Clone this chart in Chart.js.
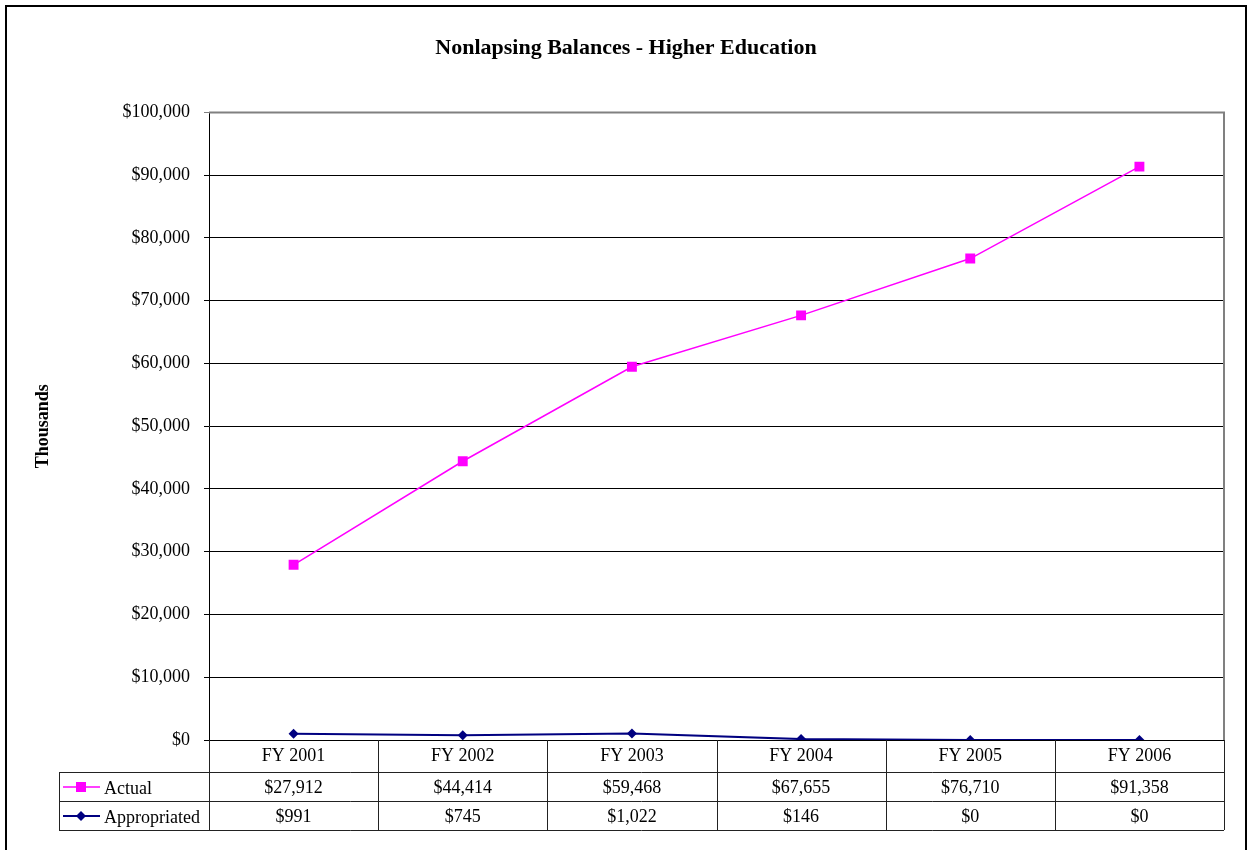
<!DOCTYPE html>
<html>
<head>
<meta charset="utf-8">
<title>Nonlapsing Balances - Higher Education</title>
<script src="https://cdn.jsdelivr.net/npm/chart.js@4.4.0/dist/chart.umd.min.js"></script>
<style>
  html, body { margin: 0; padding: 0; background: #fff; }
  #wrap { width: 1248px; height: 850px; }
</style>
</head>
<body>
<div id="wrap"><canvas id="chart" width="1248" height="850"></canvas></div>
<script>
// Fiscal years and balances (thousands of dollars)
const categories = ['FY 2001', 'FY 2002', 'FY 2003', 'FY 2004', 'FY 2005', 'FY 2006'];
const actual = [27912, 44414, 59468, 67655, 76710, 91358];
const appropriated = [991, 745, 1022, 146, 0, 0];
const seriesNames = ['Actual', 'Appropriated'];
const chartTitle = 'Nonlapsing Balances - Higher Education';
const yAxisTitle = 'Thousands';

const FONT = '"Liberation Serif", "Times New Roman", Times, serif';
const money = v => '$' + Number(v).toLocaleString('en-US');

const seriesStyle = [
  { color: '#FF00FF', point: 'rect', radius: 7, width: 1.5 },
  { color: '#000080', point: 'rectRot', radius: 5, width: 2 }
];

// White page with a heavy outer frame
const framePlugin = {
  id: 'frame',
  beforeDraw(chart) {
    const ctx = chart.ctx;
    ctx.save();
    ctx.fillStyle = '#fff';
    ctx.fillRect(0, 0, chart.width, chart.height);
    ctx.strokeStyle = '#000';
    ctx.lineWidth = 2;
    ctx.strokeRect(6, 6, 1240, 900);
    ctx.restore();
  },
  beforeDatasetsDraw(chart) {
    // gray plot-area border on top and right
    const { ctx, chartArea: a } = chart;
    ctx.save();
    ctx.strokeStyle = '#808080';
    ctx.lineWidth = 2;
    ctx.beginPath();
    ctx.moveTo(a.left, a.top);
    ctx.lineTo(a.right, a.top);
    ctx.lineTo(a.right, a.bottom);
    ctx.stroke();
    ctx.restore();
  }
};

// Data table under the category axis
const tablePlugin = {
  id: 'dataTable',
  afterDraw(chart) {
    const { ctx, chartArea: a } = chart;
    const x = chart.scales.x;
    const n = categories.length;
    const cellW = (a.right - a.left) / n;
    const top = a.bottom;
    const rowTops = [top + 32, top + 61];
    const bottom = top + 90;
    const keyLeft = 59;

    ctx.save();
    ctx.strokeStyle = '#222';
    ctx.lineWidth = 1;
    ctx.beginPath();
    // horizontal rules
    rowTops.forEach(y => { ctx.moveTo(keyLeft, y + 0.5); ctx.lineTo(a.right, y + 0.5); });
    ctx.moveTo(keyLeft, bottom + 0.5); ctx.lineTo(a.right, bottom + 0.5);
    // vertical rules at category boundaries
    for (let i = 0; i <= n; i++) {
      const bx = Math.round(x.getPixelForValue(i) - cellW / 2) + 0.5;
      ctx.moveTo(bx, top); ctx.lineTo(bx, bottom);
    }
    ctx.moveTo(keyLeft + 0.5, rowTops[0]); ctx.lineTo(keyLeft + 0.5, bottom);
    ctx.stroke();

    const rows = [actual, appropriated];
    ctx.font = '18px ' + FONT;
    ctx.fillStyle = '#000';
    ctx.textBaseline = 'middle';
    rows.forEach((vals, r) => {
      const yTop = rowTops[r];
      const yMid = yTop + 15;
      // legend key
      const st = seriesStyle[r];
      ctx.strokeStyle = st.color;
      ctx.lineWidth = st.width;
      ctx.beginPath();
      ctx.moveTo(63, yMid); ctx.lineTo(100, yMid);
      ctx.stroke();
      ctx.fillStyle = st.color;
      ctx.beginPath();
      if (st.point === 'rect') {
        ctx.rect(81 - 5, yMid - 5, 10, 10);
      } else {
        ctx.moveTo(81, yMid - 5); ctx.lineTo(86, yMid);
        ctx.lineTo(81, yMid + 5); ctx.lineTo(76, yMid);
        ctx.closePath();
      }
      ctx.fill();
      ctx.fillStyle = '#000';
      ctx.textAlign = 'left';
      ctx.fillText(seriesNames[r], 104, yMid + 2);
      // values
      ctx.textAlign = 'center';
      vals.forEach((v, i) => {
        ctx.fillText(money(v), x.getPixelForValue(i), yMid + 1);
      });
    });
    ctx.restore();
  }
};

new Chart(document.getElementById('chart'), {
  type: 'line',
  data: {
    labels: categories,
    datasets: [actual, appropriated].map((vals, i) => ({
      label: seriesNames[i],
      data: vals,
      borderColor: seriesStyle[i].color,
      backgroundColor: seriesStyle[i].color,
      borderWidth: seriesStyle[i].width,
      pointStyle: seriesStyle[i].point,
      pointRadius: seriesStyle[i].radius,
      pointBorderWidth: 0,
      pointHoverRadius: seriesStyle[i].radius,
      tension: 0,
      fill: false
    }))
  },
  options: {
    responsive: false,
    animation: false,
    devicePixelRatio: 1,
    layout: { padding: { top: 0, right: 24, bottom: 0, left: 28 } },
    plugins: {
      legend: { display: false },
      tooltip: { enabled: false },
      title: {
        display: true,
        text: chartTitle,
        color: '#000',
        font: { family: FONT, size: 22, weight: 'bold' },
        padding: { top: 35, bottom: 51 }
      }
    },
    scales: {
      x: {
        type: 'category',
        offset: true,
        grid: { display: false, drawTicks: false },
        border: { display: true, color: '#000', width: 1 },
        ticks: { color: '#000', font: { family: FONT, size: 18 }, padding: 5, maxRotation: 0 },
        afterFit(scale) { scale.height = 110; }
      },
      y: {
        min: 0,
        max: 100000,
        ticks: {
          stepSize: 10000,
          color: '#000',
          font: { family: FONT, size: 18 },
          padding: 14,
          callback: v => money(v)
        },
        grid: {
          color: ctx => (ctx.tick && ctx.tick.value === 100000 ? '#808080' : '#000'),
          tickLength: 5,
          lineWidth: 1
        },
        border: { display: true, color: '#000', width: 1 },
        title: {
          display: true,
          text: yAxisTitle,
          color: '#000',
          font: { family: FONT, size: 18, weight: 'bold' },
          padding: { top: 5, bottom: 0 }
        },
        afterFit(scale) { scale.width = 181; }
      }
    }
  },
  plugins: [framePlugin, tablePlugin]
});
</script>
</body>
</html>
